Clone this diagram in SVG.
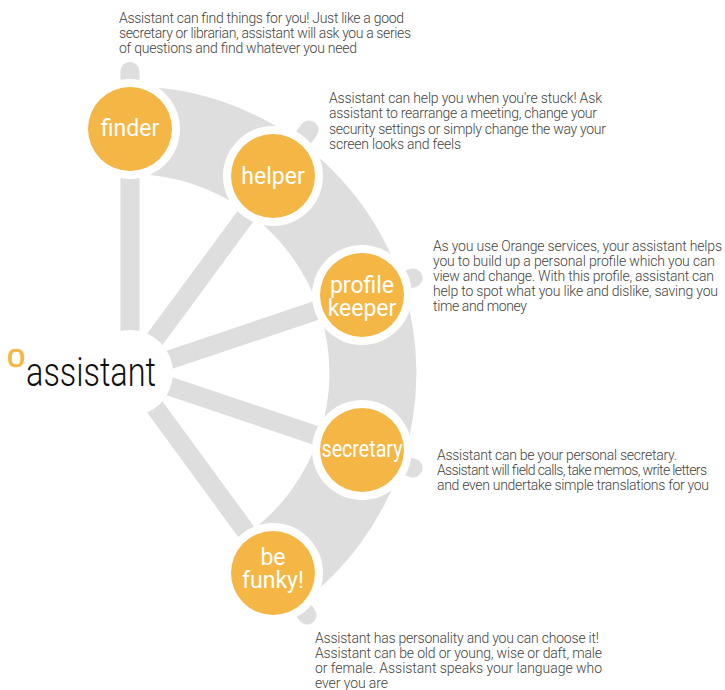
<svg xmlns="http://www.w3.org/2000/svg" width="725" height="690" viewBox="0 0 725 690">
<style>
.spoke{stroke:#dedede;stroke-width:19;stroke-linecap:round;fill:none}
.band{fill:#dedede}
.ring{fill:#fff}
.disc{fill:#f4b644}
.lab{font-family:Roboto,"Liberation Sans",sans-serif;font-weight:400;font-size:23px;fill:#fff;text-anchor:middle}
.d{font-family:Roboto,"Liberation Sans",sans-serif;font-weight:300;font-size:14px;fill:#444}
</style>
<rect width="725" height="690" fill="#fff"/>
<g id="connectors">
<path class="band" d="M130 86A287 287 0 0 1 297 606L246 535A199 199 0 0 0 130 174Z"/>
<line class="spoke" x1="130" y1="373" x2="130" y2="71.5"/>
<line class="spoke" x1="130" y1="373" x2="309" y2="130"/>
<line class="spoke" x1="130" y1="373" x2="413" y2="278"/>
<line class="spoke" x1="130" y1="373" x2="413" y2="468"/>
<line class="spoke" x1="130" y1="373" x2="307" y2="615"/>
</g>
<g id="hub">
<circle class="ring" cx="130" cy="373" r="43"/>
<text x="7" y="367" font-family="'Liberation Sans',Arial,sans-serif" font-size="33" fill="#f4b644" stroke="#f4b644" stroke-width="0.6">o</text>
<text x="26" y="386" font-family="Roboto,'Liberation Sans',sans-serif" font-weight="300" font-size="40" fill="#111" textLength="130" lengthAdjust="spacingAndGlyphs">assistant</text>
</g>
<g id="finder">
<circle class="ring" cx="130" cy="129" r="50"/><circle class="disc" cx="130" cy="129" r="42"/>
<text class="lab" x="130" y="136">finder</text>
<text class="d" x="119" y="23" textLength="285">Assistant can find things for you! Just like a good</text>
<text class="d" x="119" y="38" textLength="292">secretary or librarian, assistant will ask you a series</text>
<text class="d" x="119" y="53" textLength="238">of questions and find whatever you need</text>
</g>
<g id="helper">
<circle class="ring" cx="273" cy="176" r="50"/><circle class="disc" cx="273" cy="176" r="42"/>
<text class="lab" x="273" y="184">helper</text>
<text class="d" x="329" y="103" textLength="273">Assistant can help you when you're stuck! Ask</text>
<text class="d" x="329" y="118" textLength="268">assistant to rearrange a meeting, change your</text>
<text class="d" x="329" y="134" textLength="277">security settings or simply change the way your</text>
<text class="d" x="329" y="149" textLength="132">screen looks and feels</text>
</g>
<g id="profile-keeper">
<circle class="ring" cx="362" cy="295" r="50"/><circle class="disc" cx="362" cy="295" r="42"/>
<text class="lab" x="362" y="293">profile</text>
<text class="lab" x="362" y="316">keeper</text>
<text class="d" x="433" y="251" textLength="289">As you use Orange services, your assistant helps</text>
<text class="d" x="433" y="266" textLength="282">you to build up a personal profile which you can</text>
<text class="d" x="433" y="281" textLength="281">view and change. With this profile, assistant can</text>
<text class="d" x="433" y="296" textLength="285">help to spot what you like and dislike, saving you</text>
<text class="d" x="433" y="311" textLength="94">time and money</text>
</g>
<g id="secretary">
<circle class="ring" cx="362" cy="450" r="50"/><circle class="disc" cx="362" cy="450" r="42"/>
<text class="lab" x="362" y="457" textLength="81" lengthAdjust="spacingAndGlyphs">secretary</text>
<text class="d" x="437" y="460" textLength="240">Assistant can be your personal secretary.</text>
<text class="d" x="437" y="475" textLength="270">Assistant will field calls, take memos, write letters</text>
<text class="d" x="437" y="490" textLength="272">and even undertake simple translations for you</text>
</g>
<g id="be-funky">
<circle class="ring" cx="273" cy="573" r="50"/><circle class="disc" cx="273" cy="573" r="42"/>
<text class="lab" x="273" y="565">be</text>
<text class="lab" x="273" y="588">funky!</text>
<text class="d" x="315" y="643" textLength="284">Assistant has personality and you can choose it!</text>
<text class="d" x="315" y="658" textLength="287">Assistant can be old or young, wise or daft, male</text>
<text class="d" x="315" y="673" textLength="287">or female. Assistant speaks your language who</text>
<text class="d" x="315" y="688" textLength="73">ever you are</text>
</g>
</svg>
